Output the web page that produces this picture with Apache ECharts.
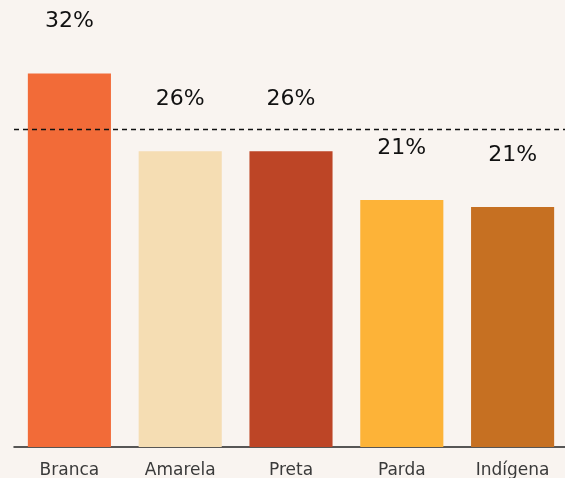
<!DOCTYPE html>
<html>
<head>
<meta charset="utf-8">
<script src="https://cdn.jsdelivr.net/npm/echarts@6/dist/echarts.min.js"></script>
<style>
  html, body { margin: 0; padding: 0; background: #f9f4f0; }
  #chart { width: 565px; height: 478px; }
</style>
</head>
<body>
<div id="chart"></div>
<script>
const categories = ['Branca', 'Amarela', 'Preta', 'Parda', 'Indígena'];
const values = [32.2, 25.5, 25.5, 21.3, 20.7];
const barColors = ['#f26b38', '#f5ddb3', '#bd4526', '#fdb338', '#c67022'];
const referenceLine = 27.4;

const chart = echarts.init(document.getElementById('chart'));

chart.setOption({
  backgroundColor: '#f9f4f0',
  animation: false,
  grid: { left: 14, right: -3, top: 41, bottom: 31, outerBoundsMode: 'none' },
  xAxis: {
    type: 'category',
    data: categories,
    axisLine: { lineStyle: { color: '#222', width: 1.5 } },
    axisTick: { show: false },
    axisLabel: {
      color: '#3a3a3a',
      fontFamily: 'DejaVu Sans',
      fontSize: 17,
      margin: 15
    }
  },
  yAxis: {
    type: 'value',
    min: 0,
    max: 35,
    show: false
  },
  series: [{
    type: 'bar',
    barCategoryGap: '25%',
    data: values.map((v, i) => ({ value: v, itemStyle: { color: barColors[i] } })),
    label: {
      show: true,
      position: 'top',
      distance: 41,
      color: '#111',
      fontFamily: 'DejaVu Sans',
      fontSize: 22,
      formatter: p => Math.round(p.value) + '%'
    },
    markLine: {
      silent: true,
      symbol: 'none',
      label: { show: false },
      lineStyle: { color: '#111', type: [5, 4], width: 1.4 },
      data: [{ yAxis: referenceLine }]
    }
  }]
});
</script>
</body>
</html>
